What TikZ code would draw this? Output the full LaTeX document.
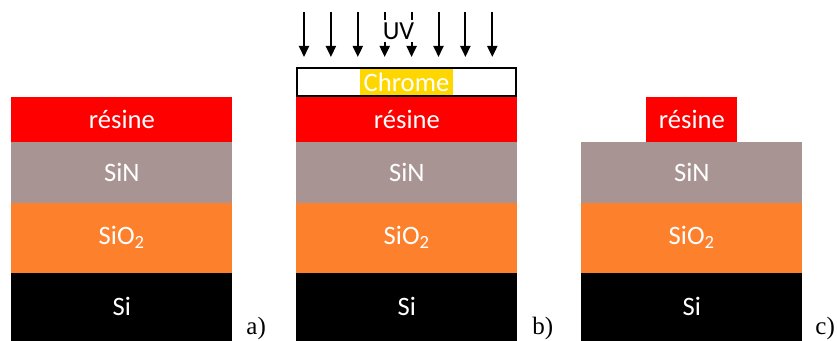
\documentclass[tikz,border=0pt]{standalone}
\usepackage{fontspec}
\setmainfont{Carlito}
\newfontfamily\labelfont{Liberation Serif}
\usepackage{xcolor}
\usetikzlibrary{arrows.meta}
\definecolor{resinered}{RGB}{255, 0, 0}
\definecolor{sinmauve}{RGB}{168, 148, 146}
\definecolor{oxorange}{RGB}{253, 128, 44}
\definecolor{chromeyellow}{RGB}{255, 215, 0}

\begin{document}
\begin{tikzpicture}[x=0.5pt, y=0.5pt,
    layer/.style={anchor=south west, inner sep=0pt, minimum width=110.5pt,
                  text=white, font=\fontsize{13.3}{15}\selectfont},
    uvray/.style={-{Triangle[width=5pt, length=5.5pt]}, line width=1pt,
                  shorten >=5pt},
    steplabel/.style={anchor=base west, inner sep=0pt,
                      font=\labelfont\fontsize{12.5}{14}\selectfont}]

  \useasboundingbox (0, 0) rectangle (837, 341);

  % ── Common stack: Si / SiO2 / SiN ────────────────────────────────────────
  \foreach \s/\x in {a/11, b/296, c/581} {
    \node[layer, fill=black, minimum height=34pt] (si\s) at (\x, 0) {Si};
    \node[layer, fill=oxorange, minimum height=35pt] (sio\s) at (\x, 68)
      {SiO\textsubscript{2}};
    \node[layer, fill=sinmauve, minimum height=30.5pt] (sin\s) at (\x, 138)
      {SiN};
  }

  % ── Resist layers ────────────────────────────────────────────────────────
  \node[layer, fill=resinered, minimum height=22.5pt] (resa) at (11, 199)
    {résine};
  \node[layer, fill=resinered, minimum height=22.5pt] (resb) at (296, 199)
    {résine};
  \node[layer, fill=resinered, minimum height=22.5pt, minimum width=45.5pt]
    (resc) at (646, 199) {résine};

  % ── Chrome mask ──────────────────────────────────────────────────────────
  \node[draw, line width=1.2pt, fill=white, minimum width=109.3pt,
        minimum height=13.8pt, inner sep=0pt] (chrome) at (406.5, 259) {};
  \node[fill=chromeyellow, text=white, inner xsep=2pt, inner ysep=0pt,
        minimum height=13pt, font=\fontsize{13.3}{15}\selectfont]
    (chrometxt) at (chrome.center) {Chrome};

  % ── UV exposure ──────────────────────────────────────────────────────────
  \foreach \i in {0,...,7} {
    \coordinate (uv\i) at (304 + 26.9*\i, 329);
    \draw[uvray] (uv\i) -- (uv\i |- chrome.north);
  }
  \node[fill=white, inner sep=1.5pt, font=\fontsize{13}{15}\selectfont]
    (uvlabel) at (398.5, 310) {UV};

  % ── Step labels ──────────────────────────────────────────────────────────
  \node[steplabel] (laba) at (246, 6) {a)};
  \node[steplabel] (labb) at (532, 6) {b)};
  \node[steplabel] (labc) at (815, 6) {c)};

\end{tikzpicture}
\end{document}
